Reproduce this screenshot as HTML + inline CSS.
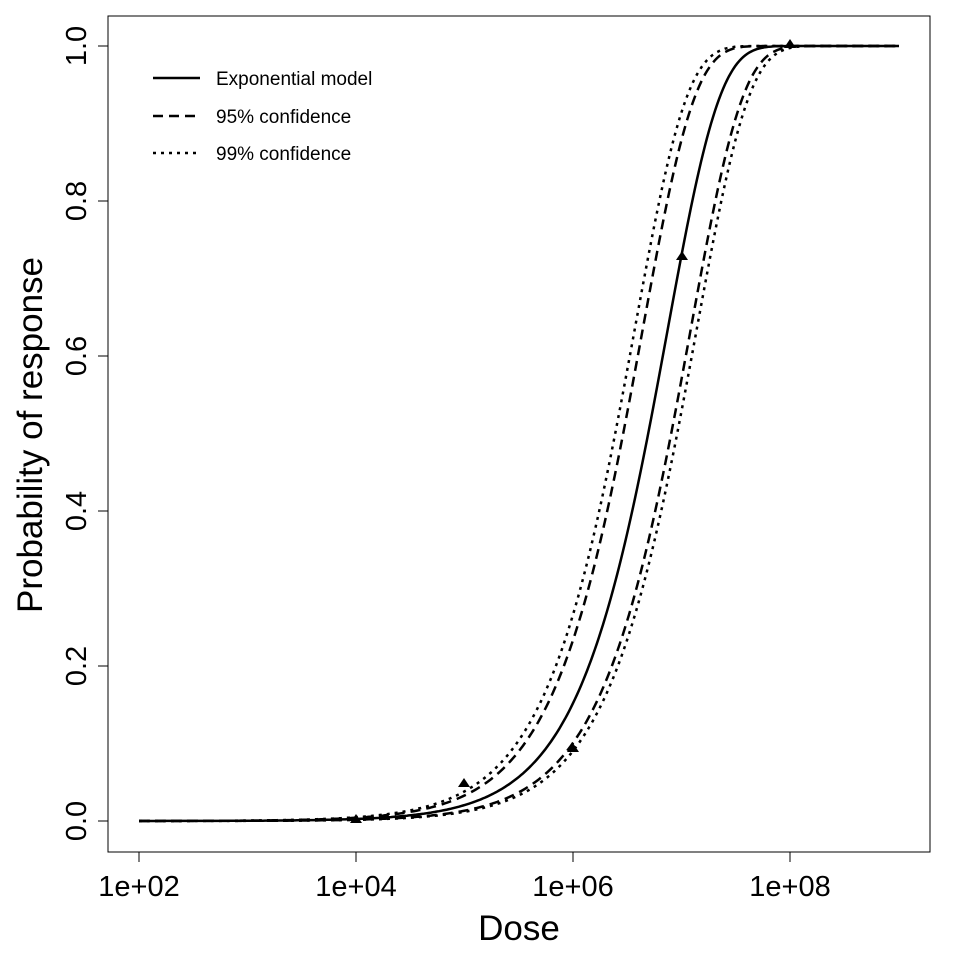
<!DOCTYPE html>
<html><head><meta charset="utf-8"><style>
body{margin:0;background:#fff}
svg text{font-family:"Liberation Sans",Arial,sans-serif;fill:#000}
</style></head><body>
<svg id="s" width="960" height="960" xmlns="http://www.w3.org/2000/svg">
<rect x="108" y="16" width="822" height="836" fill="none" stroke="#000" stroke-width="1"/>
<g stroke="#000" stroke-width="1">
<line x1="139" y1="852" x2="790" y2="852"/>
<line x1="139" y1="852" x2="139" y2="862"/>
<line x1="356" y1="852" x2="356" y2="862"/>
<line x1="573" y1="852" x2="573" y2="862"/>
<line x1="790" y1="852" x2="790" y2="862"/>
<line x1="108" y1="46" x2="108" y2="821"/>
<line x1="98" y1="821" x2="108" y2="821"/>
<line x1="98" y1="666" x2="108" y2="666"/>
<line x1="98" y1="511" x2="108" y2="511"/>
<line x1="98" y1="356" x2="108" y2="356"/>
<line x1="98" y1="201" x2="108" y2="201"/>
<line x1="98" y1="46" x2="108" y2="46"/>
</g>
<g font-size="29" text-anchor="middle">
<text x="139" y="896">1e+02</text>
<text x="356" y="896">1e+04</text>
<text x="573" y="896">1e+06</text>
<text x="790" y="896">1e+08</text>
<text x="519" y="940" font-size="35">Dose</text>
</g>
<g font-size="29" text-anchor="middle">
<text transform="translate(86,821) rotate(-90)">0.0</text>
<text transform="translate(86,666) rotate(-90)">0.2</text>
<text transform="translate(86,511) rotate(-90)">0.4</text>
<text transform="translate(86,356) rotate(-90)">0.6</text>
<text transform="translate(86,201) rotate(-90)">0.8</text>
<text transform="translate(86,46) rotate(-90)">1.0</text>
<text transform="translate(42,435) rotate(-90)" font-size="35">Probability of response</text>
</g>
<g stroke="#000" stroke-width="2.5" fill="none">
<line x1="153" y1="78" x2="200" y2="78"/>
<line x1="153" y1="116" x2="200" y2="116" stroke-dasharray="10,6"/>
<line x1="153" y1="153" x2="200" y2="153" stroke-dasharray="3,5"/>
</g>
<g font-size="19">
<text x="216" y="85">Exponential model</text>
<text x="216" y="123">95% confidence</text>
<text x="216" y="160">99% confidence</text>
</g>
<g id="c" fill="none" stroke="#000" stroke-width="2.5"></g>
<g fill="#000">
<polygon points="356,814 350,823 362,823"/>
<polygon points="464,778 458,787 470,787"/>
<polygon points="573,743 567,752 579,752"/>
<polygon points="682,251 676,260 688,260"/>
<polygon points="790,39 784,48 796,48"/>
</g>
</svg>
<script>
var g=document.getElementById('c');
var ks=[[0,''],[-25,'10,6'],[23,'10,6'],[-33,'3,5'],[29,'3,5']];
ks.forEach(function(a){var d='';for(var x=139;x<=899;x+=2){var ld=2+(x-a[0]-139)/108.5;var z=Math.pow(10,0.9*(ld-6.870));var p=1-Math.exp(-z);var y=821-775*p;d+=(d?'L':'M')+x+','+y.toFixed(1);}
var e=document.createElementNS('http://www.w3.org/2000/svg','path');e.setAttribute('d',d);if(a[1])e.setAttribute('stroke-dasharray',a[1]);g.appendChild(e);});
</script>
</body></html>
